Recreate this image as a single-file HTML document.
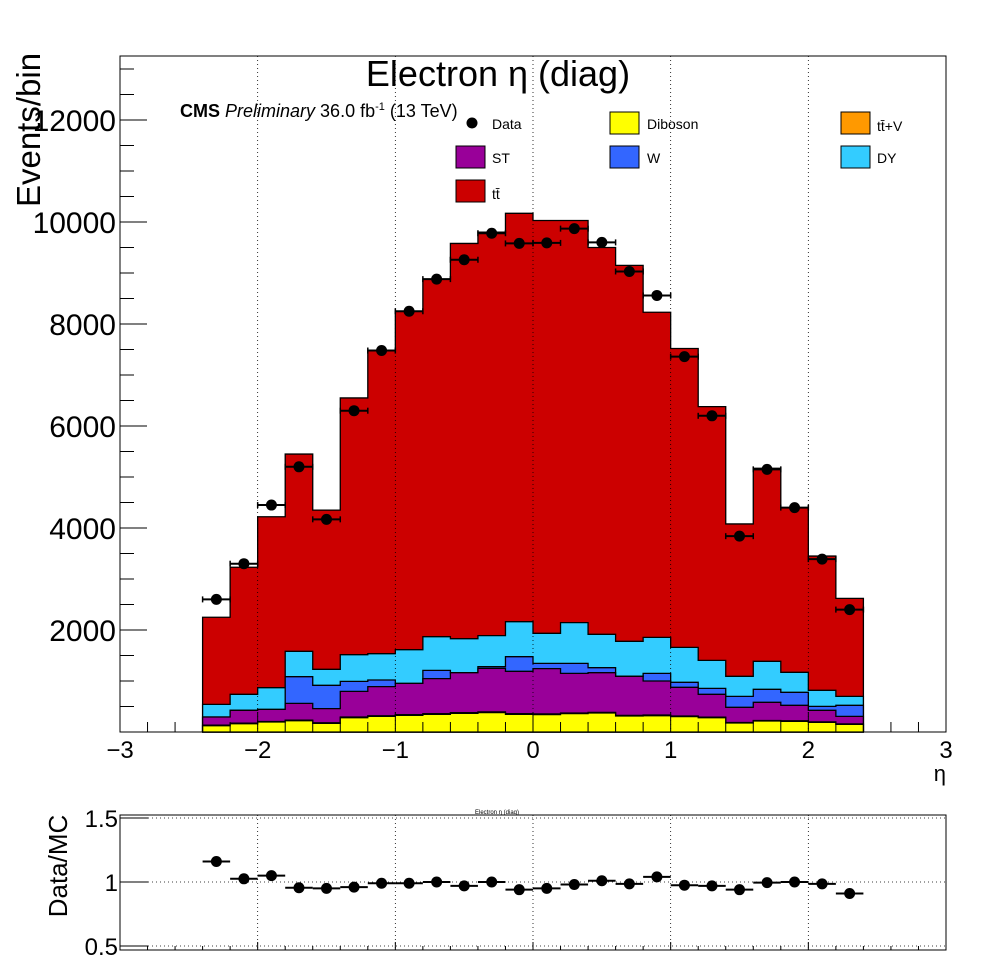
<!DOCTYPE html>
<html><head><meta charset="utf-8"><style>
body{margin:0;background:#fff;}
svg{display:block;font-family:"Liberation Sans",sans-serif;}
</style></head><body>
<svg id="c" width="996" height="972" xmlns="http://www.w3.org/2000/svg"></svg>
<script>
const binEdgesLow = [-2.4,-2.2,-2.0,-1.8,-1.6,-1.4,-1.2,-1.0,-0.8,-0.6,-0.4,-0.2,0.0,0.2,0.4,0.6,0.8,1.0,1.2,1.4,1.6,1.8,2.0,2.2];
const diboson = [124,163,196,222,170,281,307,327,346,366,380,346,340,360,373,314,320,301,281,176,216,209,190,150];
const ttV = [10,10,10,10,10,12,12,12,14,14,15,14,14,13,12,12,13,12,10,10,10,10,8,8];
const st = [160,252,238,330,278,504,570,615,686,783,853,830,888,777,778,766,667,563,448,298,356,304,227,149];
const wjets = [0,0,0,523,457,196,131,0,163,0,33,287,104,196,98,0,150,98,117,215,255,255,78,216];
const dy = [248,314,425,497,314,523,516,660,660,667,608,686,589,798,654,686,706,686,549,393,549,392,314,176];
const totalMC = [2250,3230,4220,5450,4350,6550,7480,8250,8880,9580,9800,10170,10030,10030,9500,9150,8230,7520,6380,4080,5170,4400,3450,2620];
const dataY = [2600,3300,4450,5200,4170,6300,7480,8250,8880,9260,9780,9580,9590,9870,9600,9030,8560,7360,6200,3840,5150,4400,3390,2400];
const ratioY = [1.16,1.025,1.05,0.955,0.95,0.96,0.99,0.99,1.0,0.97,1.0,0.94,0.95,0.98,1.01,0.985,1.04,0.975,0.97,0.94,0.995,1.0,0.985,0.91];
const ratioErr = [0.02,0.02,0.02,0.025,0.035,0.025,0.02,0.02,0.02,0.02,0.02,0.02,0.02,0.02,0.02,0.02,0.02,0.02,0.025,0.025,0.025,0.03,0.025,0.035];
const yTicks = [2000,4000,6000,8000,10000,12000];
const xTicks = [-3,-2,-1,0,1,2,3];
const ratioTicks = [0.5,1,1.5];

const NS="http://www.w3.org/2000/svg";
const svg=document.getElementById('c');
const L=120,R=946,T=56,B=732;
const X=v=>L+(v+3)/6*(R-L);
const Y=v=>B-v*0.051;
const RT=818,RB=946; const RY=v=>RB-(v-0.5)*(RB-RT);
function el(tag,a,p){const e=document.createElementNS(NS,tag);for(const k in a)e.setAttribute(k,a[k]);(p||svg).appendChild(e);return e;}

const stacks=[['diboson',diboson,'#ffff00'],['ttv',ttV,'#ff9900'],['st',st,'#990099'],['w',wjets,'#3366ff'],['dy',dy,'#33ccff']];
const cum=binEdgesLow.map(()=>0);
const layers=[];
stacks.forEach(s=>{const top=cum.map((c,i)=>c+s[1][i]);layers.push([s[0],cum.slice(),top.slice(),s[2]]);top.forEach((t,i)=>cum[i]=t);});
layers.push(['ttbar',cum.slice(),totalMC,'#cc0000']);
for(let li=layers.length-1;li>=0;li--){
  const [nm,lo,hi,col]=layers[li];
  let d=`M${X(binEdgesLow[0])},${Y(0)}`;
  hi.forEach((h,i)=>{d+=` L${X(binEdgesLow[i])},${Y(h)} L${X(binEdgesLow[i]+0.2)},${Y(h)}`;});
  d+=` L${X(2.4)},${Y(0)} Z`;
  const p=el('path',{d:d,fill:col,stroke:'#000','stroke-width':1.3});
  
  
}
const f=el('rect',{x:L,y:T,width:R-L,height:B-T,fill:'none',stroke:'#000'});

[-2,-1,0,1,2].forEach(v=>{el('line',{x1:X(v),x2:X(v),y1:T,y2:B,stroke:'#000','stroke-dasharray':'1,3','stroke-width':0.8});
 el('line',{x1:X(v),x2:X(v),y1:815,y2:RB+4,stroke:'#000','stroke-dasharray':'1,3','stroke-width':0.8});});
for(let v=500;v<13300;v+=500){const maj=v%2000===0;el('line',{x1:L,x2:L+(maj?27:14),y1:Y(v),y2:Y(v),stroke:'#000'});}
yTicks.forEach(v=>{const t=el('text',{x:L-4,y:Y(v)+11,'text-anchor':'end','font-size':30});t.textContent=v;
});
for(let v=-3;v<=3.001;v+=0.2){const maj=Math.abs(v-Math.round(v))<0.01;
 el('line',{x1:X(v),x2:X(v),y1:B,y2:B-(maj?20:10),stroke:'#000'});
 el('line',{x1:X(v),x2:X(v),y1:RB+4,y2:RB+4-(maj?8:4),stroke:'#000'});}
xTicks.forEach(v=>{const t=el('text',{x:X(v),y:758,'text-anchor':'middle','font-size':24});t.textContent=v<0?'\u2212'+(-v):v;
});
dataY.forEach((v,i)=>{const cx=X(binEdgesLow[i]+0.1),cy=Y(v);
 el('line',{x1:X(binEdgesLow[i]),x2:X(binEdgesLow[i]+0.2),y1:cy,y2:cy,stroke:'#000','stroke-width':2});
 el('line',{x1:X(binEdgesLow[i]),x2:X(binEdgesLow[i]),y1:cy-3,y2:cy+3,stroke:'#000','stroke-width':1.5});
 el('line',{x1:X(binEdgesLow[i]+0.2),x2:X(binEdgesLow[i]+0.2),y1:cy-3,y2:cy+3,stroke:'#000','stroke-width':1.5});
 const c=el('circle',{cx:cx,cy:cy,r:5.5,fill:'#000'});
 });
const rf=el('rect',{x:L,y:815,width:R-L,height:RB+4-815,fill:'none',stroke:'#000'});

ratioTicks.forEach(v=>{el('line',{x1:L,x2:R,y1:RY(v),y2:RY(v),stroke:'#000','stroke-dasharray':'1,3','stroke-width':0.8});
 el('line',{x1:L,x2:L+28,y1:RY(v),y2:RY(v),stroke:'#000'});
 const t=el('text',{x:L-2,y:RY(v)+9,'text-anchor':'end','font-size':24});t.textContent=v;
 });
ratioY.forEach((v,i)=>{const cx=X(binEdgesLow[i]+0.1),cy=RY(v);
 el('line',{x1:X(binEdgesLow[i]),x2:X(binEdgesLow[i]+0.2),y1:cy,y2:cy,stroke:'#000','stroke-width':2});
 el('line',{x1:cx,x2:cx,y1:RY(v+ratioErr[i]),y2:RY(v-ratioErr[i]),stroke:'#000','stroke-width':2});
 const c=el('circle',{cx:cx,cy:cy,r:5.5,fill:'#000'});
 });
</script>
<svg style="position:absolute;left:0;top:0" width="996" height="972" xmlns="http://www.w3.org/2000/svg">
<text x="498" y="86" text-anchor="middle" font-size="36" font-family="Liberation Sans, sans-serif">Electron η (diag)</text>
<text transform="translate(40,130) rotate(-90)" text-anchor="middle" font-size="33" font-family="Liberation Sans, sans-serif">Events/bin</text>
<text x="946" y="781" text-anchor="end" font-size="22" font-family="Liberation Sans, sans-serif">η</text>
<text transform="translate(67,866) rotate(-90)" text-anchor="middle" font-size="26" font-family="Liberation Sans, sans-serif">Data/MC</text>
<text x="497" y="814" text-anchor="middle" font-size="6" font-family="Liberation Sans, sans-serif">Electron η (diag)</text>
<text x="180" y="117" font-size="18" font-family="Liberation Sans, sans-serif"><tspan font-weight="bold">CMS</tspan> <tspan font-style="italic">Preliminary</tspan> 36.0 fb<tspan font-size="11" dy="-7">-1</tspan><tspan dy="7"> (13 TeV)</tspan></text>
<g font-family="Liberation Sans, sans-serif" font-size="14">
<circle cx="472" cy="123" r="5.5" fill="#000"/><text x="492" y="129">Data</text>
<rect x="610" y="112" width="29" height="22" fill="#ffff00" stroke="#000"/><text x="647" y="129">Diboson</text>
<rect x="841" y="112" width="29" height="22" fill="#ff9900" stroke="#000"/><text x="877" y="131">tt̄+V</text>
<rect x="456" y="146" width="29" height="22" fill="#990099" stroke="#000"/><text x="492" y="163">ST</text>
<rect x="610" y="146" width="29" height="22" fill="#3366ff" stroke="#000"/><text x="647" y="163">W</text>
<rect x="841" y="146" width="29" height="22" fill="#33ccff" stroke="#000"/><text x="877" y="163">DY</text>
<rect x="456" y="180" width="29" height="22" fill="#cc0000" stroke="#000"/><text x="492" y="199">tt̄</text>
</g>
</svg>
</body></html>
